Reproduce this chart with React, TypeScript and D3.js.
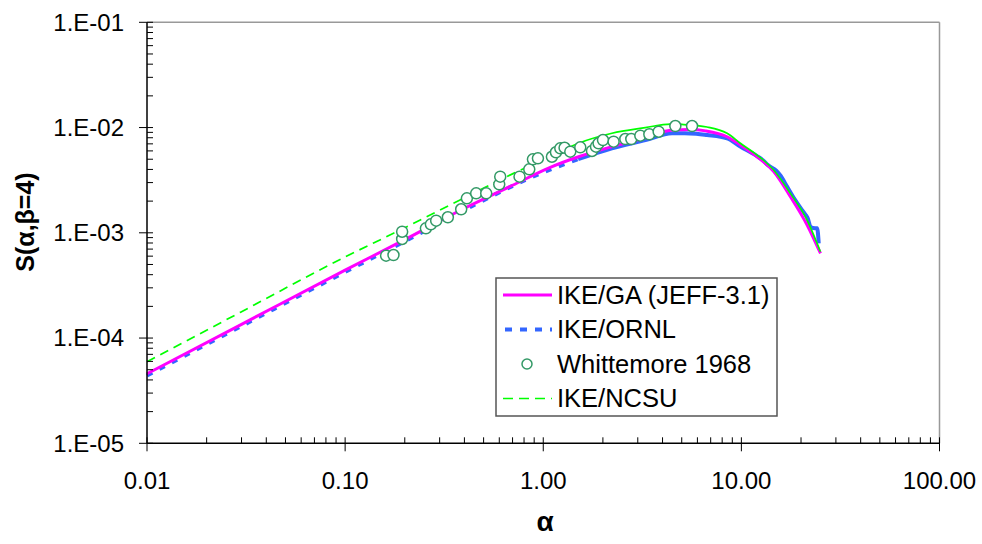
import React from "react";
import * as d3 from "d3";

// ---- data ----
const xTickValues = [0.01, 0.1, 1, 10, 100];
const xTickLabels = ["0.01", "0.10", "1.00", "10.00", "100.00"];
const yTickValues = [1e-1, 1e-2, 1e-3, 1e-4, 1e-5];
const yTickLabels = ["1.E-01", "1.E-02", "1.E-03", "1.E-04", "1.E-05"];

const alphaGA = [0.01, 0.03, 0.1, 0.2, 0.4, 0.7, 1.085, 1.508, 2.223, 3.275, 4.5, 5.5, 6.6, 8.47, 9.88, 12.0, 14.56, 17.68, 21.47, 25.06];
const sGA = [4.58e-5, 1.35e-4, 4.42e-4, 8.6e-4, 1.71e-3, 2.83e-3, 4.19e-3, 5.28e-3, 6.58e-3, 8.01e-3, 9.5e-3, 9.6e-3, 9.3e-3, 8.18e-3, 6.83e-3, 5.28e-3, 3.81e-3, 2.2e-3, 1.186e-3, 6.39e-4];

const alphaORNL = [0.01, 0.03, 0.1, 0.2, 0.4, 1.02, 1.5, 2.22, 3.28, 4.47, 5.5, 6.71, 8.47, 9.88, 12.0, 13.0, 13.5, 15.0, 15.74, 17.0, 18.37, 20.0, 21.0, 21.6, 22.31, 23.0, 24.12, 24.57];
const sORNL = [4.4e-5, 1.3e-4, 4.25e-4, 8.3e-4, 1.65e-3, 3.81e-3, 5.0e-3, 6.35e-3, 7.61e-3, 8.82e-3, 8.8e-3, 8.49e-3, 7.9e-3, 6.6e-3, 5.35e-3, 4.8e-3, 4.45e-3, 3.9e-3, 3.5e-3, 2.75e-3, 2.15e-3, 1.7e-3, 1.5e-3, 1.38e-3, 1.143e-3, 1.11e-3, 1.103e-3, 7.95e-4];

const alphaNCSU = [0.01, 0.03, 0.1, 0.1754, 0.396, 0.708, 1.085, 1.508, 2.223, 3.275, 4.38, 5.0, 6.71, 8.47, 9.88, 12.0, 14.56, 17.68, 21.47, 25.06];
const sNCSU = [5.96e-5, 1.78e-4, 5.9e-4, 9.89e-4, 2.127e-3, 3.67e-3, 5.28e-3, 7.09e-3, 8.82e-3, 9.97e-3, 1.08e-2, 1.07e-2, 1.012e-2, 8.82e-3, 7.09e-3, 5.48e-3, 3.95e-3, 2.37e-3, 1.323e-3, 6.61e-4];

const alphaW = [0.161, 0.1754, 0.194, 0.194, 0.2557, 0.2709, 0.2881, 0.33, 0.3853, 0.4117, 0.4587, 0.5154, 0.5996, 0.6065, 0.759, 0.85, 0.887, 0.94, 1.106, 1.159, 1.219, 1.281, 1.369, 1.538, 1.762, 1.846, 1.902, 2.002, 2.265, 2.595, 2.782, 3.09, 3.431, 3.823, 4.642, 5.636];
const sW = [6.06e-4, 6.15e-4, 8.73e-4, 1.024e-3, 1.103e-3, 1.204e-3, 1.303e-3, 1.404e-3, 1.673e-3, 2.127e-3, 2.373e-3, 2.373e-3, 2.889e-3, 3.412e-3, 3.412e-3, 4.012e-3, 4.993e-3, 5.103e-3, 5.28e-3, 5.82e-3, 6.35e-3, 6.43e-3, 5.9e-3, 6.49e-3, 5.99e-3, 6.58e-3, 7.09e-3, 7.61e-3, 7.34e-3, 7.78e-3, 7.78e-3, 8.37e-3, 8.63e-3, 9.13e-3, 1.034e-2, 1.034e-2];

const legendNames = ["IKE/GA (JEFF-3.1)", "IKE/ORNL", "Whittemore 1968", "IKE/NCSU"];

const FONT = "'Liberation Sans', Arial, sans-serif";
const MAGENTA = "#ff00ff";
const BLUE = "#3366ff";
const GREEN = "#00ff00";
const SEA = "#339966";

export default function App() {
  const left = 147, right = 939.5, top = 22.3, bottom = 443.3;
  const x = d3.scaleLog().domain([0.01, 100]).range([left, right]);
  const y = d3.scaleLog().domain([1e-5, 1e-1]).range([bottom, top]);

  const zip = (a: number[], s: number[]) => a.map((v, i) => [v, s[i]] as [number, number]);
  const line = d3.line<[number, number]>().x(d => x(d[0])).y(d => y(d[1])).curve(d3.curveMonotoneX);

  const ga = zip(alphaGA, sGA);
  const ornl = zip(alphaORNL, sORNL);
  const ncsu = zip(alphaNCSU, sNCSU);
  const ornlDash = ornl.filter(d => d[0] <= 1.5);
  const ornlSolid = ornl.filter(d => d[0] >= 1.5);
  const ncsuDash = ncsu.filter(d => d[0] <= 1.085);
  const ncsuSolid = ncsu.filter(d => d[0] >= 1.085);

  const xMinor: number[] = [];
  const yMinor: number[] = [];
  for (let e = -2; e < 2; e++) for (let k = 2; k <= 9; k++) xMinor.push(k * Math.pow(10, e));
  for (let e = -5; e < -1; e++) for (let k = 2; k <= 9; k++) yMinor.push(k * Math.pow(10, e));

  const lgX = 496, lgY = 278, lgW = 281, lgH = 138;
  const rowY = (i: number) => 295 + i * 34.5;

  return (
    <div style={{ position: "absolute", left: 0, top: 0 }}>
      <svg width={982} height={544} style={{ display: "block", background: "#fff" }} fontFamily={FONT}>
        {/* frame */}
        <line x1={left} x2={right} y1={top} y2={top} stroke="#999" strokeWidth={1.5} />
        <line x1={right} x2={right} y1={top} y2={bottom} stroke="#999" strokeWidth={1.5} />

        {/* series */}
        <path d={line(ornlDash) || ""} fill="none" stroke={BLUE} strokeWidth={4} strokeDasharray="6,8" />
        <path d={line(ornlSolid) || ""} fill="none" stroke={BLUE} strokeWidth={4} />
        <path d={line(ga) || ""} fill="none" stroke={MAGENTA} strokeWidth={3} />
        <path d={line(ncsuDash) || ""} fill="none" stroke={GREEN} strokeWidth={1.7} strokeDasharray="9,6" />
        <path d={line(ncsuSolid) || ""} fill="none" stroke={GREEN} strokeWidth={1.7} />
        {alphaW.map((a, i) => (
          <circle key={i} cx={x(a)} cy={y(sW[i])} r={5.5} fill="#fff" stroke={SEA} strokeWidth={1.5} />
        ))}

        {/* axes */}
        <line x1={left} x2={left} y1={top} y2={bottom} stroke="#000" strokeWidth={1.5} />
        <line x1={left} x2={right} y1={bottom} y2={bottom} stroke="#000" strokeWidth={1.5} />
        {yMinor.map((v, i) => (
          <line key={"ym" + i} x1={left} x2={left + 6} y1={y(v)} y2={y(v)} stroke="#000" strokeWidth={1} />
        ))}
        {yTickValues.map((v, i) => (
          <g key={"yt" + i}>
            <line x1={left - 8} x2={left + 6} y1={y(v)} y2={y(v)} stroke="#000" strokeWidth={1} />
            <text x={124} y={y(v)} dy="0.35em" textAnchor="end" fontSize={24} fill="#000">{yTickLabels[i]}</text>
          </g>
        ))}
        {xMinor.map((v, i) => (
          <line key={"xm" + i} x1={x(v)} x2={x(v)} y1={bottom - 6} y2={bottom} stroke="#000" strokeWidth={1} />
        ))}
        {xTickValues.map((v, i) => (
          <g key={"xt" + i}>
            <line x1={x(v)} x2={x(v)} y1={bottom - 6} y2={bottom + 8} stroke="#000" strokeWidth={1} />
            <text x={x(v)} y={489} textAnchor="middle" fontSize={24} fill="#000">{xTickLabels[i]}</text>
          </g>
        ))}

        {/* axis titles */}
        <text x={545} y={531} textAnchor="middle" fontSize={28} fontWeight="bold" fill="#000">α</text>
        <text transform="translate(25,222) rotate(-90)" textAnchor="middle" dy="0.35em" fontSize={25} fontWeight="bold" fill="#000">S(α,β=4)</text>

        {/* legend */}
        <rect x={lgX} y={lgY} width={lgW} height={lgH} fill="#fff" stroke="#555" strokeWidth={1.5} />
        <line x1={503} x2={552} y1={rowY(0)} y2={rowY(0)} stroke={MAGENTA} strokeWidth={3} />
        <line x1={505} x2={552} y1={rowY(1)} y2={rowY(1)} stroke={BLUE} strokeWidth={4} strokeDasharray="7,8" />
        <circle cx={527} cy={rowY(2)} r={5} fill="#fff" stroke={SEA} strokeWidth={1.5} />
        <line x1={503} x2={552} y1={rowY(3)} y2={rowY(3)} stroke={GREEN} strokeWidth={1.7} strokeDasharray="10,6" />
        {legendNames.map((n, i) => (
          <text key={n} x={557} y={rowY(i)} dy="0.35em" fontSize={25.5} fill="#000">{n}</text>
        ))}
      </svg>
    </div>
  );
}
